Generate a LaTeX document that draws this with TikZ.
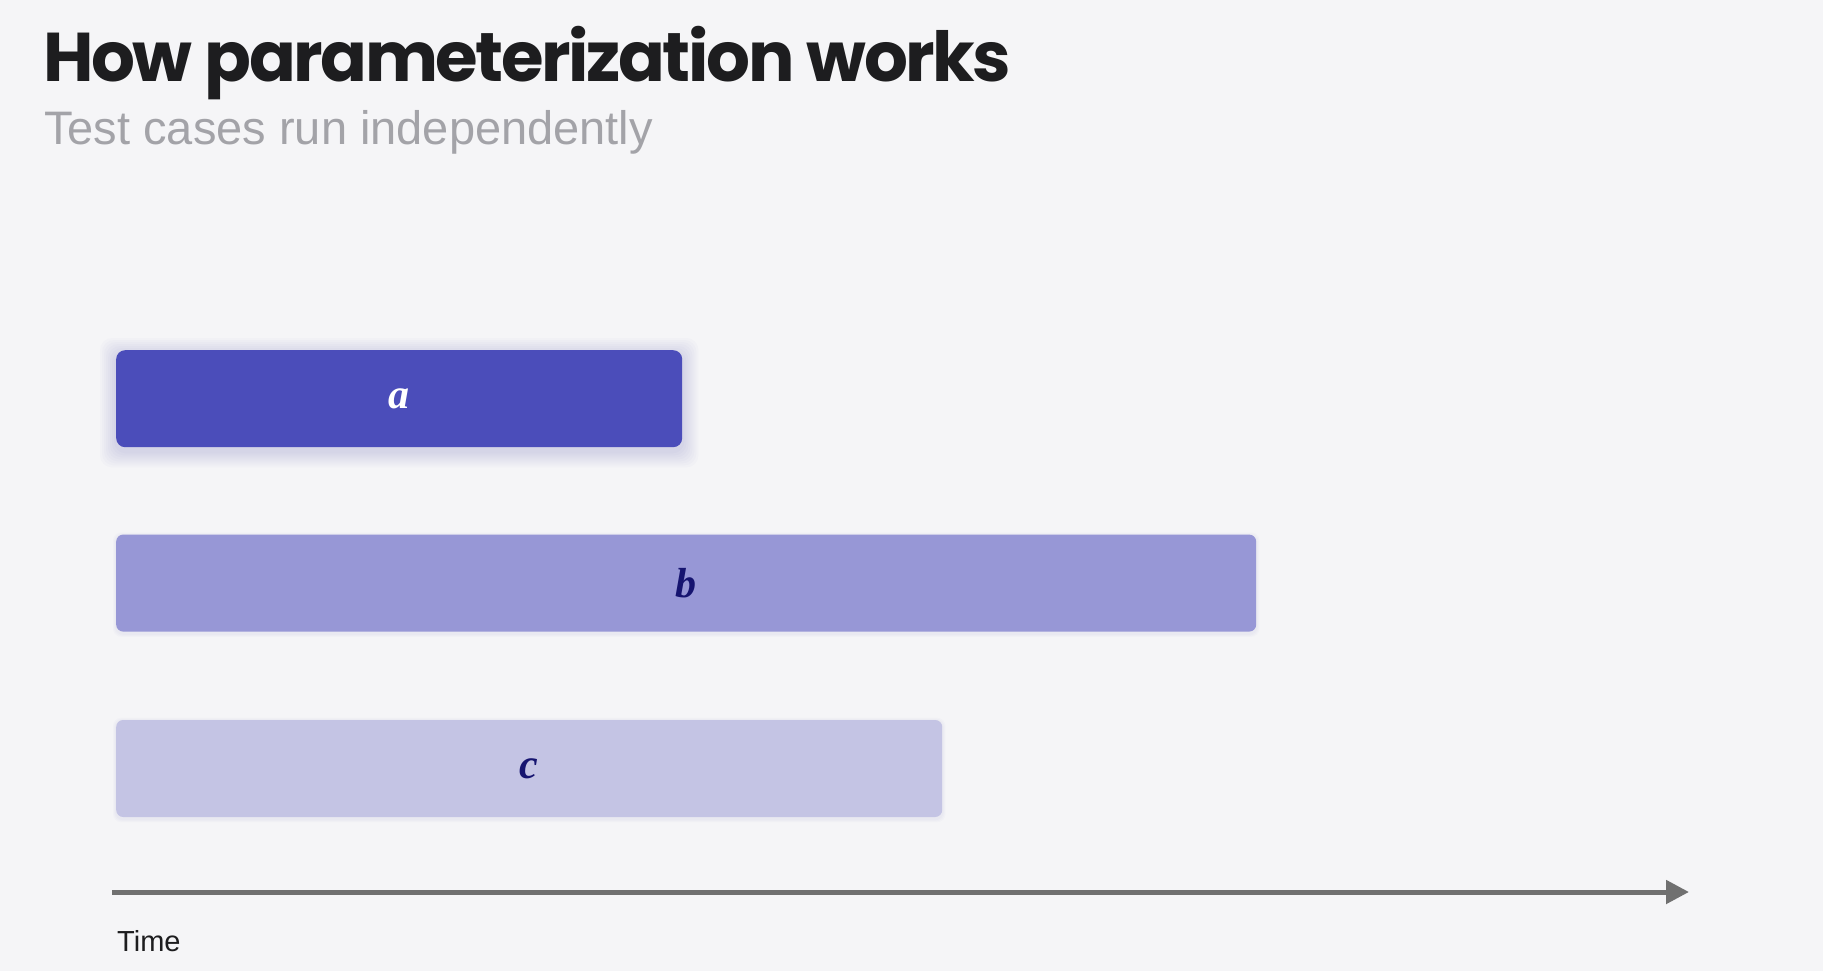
\documentclass[tikz,border=0pt]{standalone}
\usepackage{fontspec}
\setmainfont{Liberation Sans}
\newfontfamily\titlefont[LetterSpace=-3.5]{Poppins}
\newfontfamily\labelfont{Liberation Serif}
\usepackage{tikz}
\usetikzlibrary{positioning,backgrounds,arrows.meta}
\definecolor{pagebg}{RGB}{245,245,247}
\definecolor{ink}{RGB}{29,29,31}
\definecolor{subgray}{RGB}{163,163,168}
\definecolor{j1}{RGB}{75,77,186}
\definecolor{j2}{RGB}{151,151,214}
\definecolor{j3}{RGB}{196,196,228}
\definecolor{navy}{RGB}{22,20,112}
\definecolor{axisgray}{RGB}{112,112,112}

\begin{document}
\begin{tikzpicture}[
  x=1pt, y=-1pt,
  bar/.style={rectangle, rounded corners=7pt, minimum height=97pt, inner sep=0pt,
    anchor=north west, font=\fontsize{42}{42}\selectfont\labelfont\bfseries\itshape},
  bara/.style={bar, fill=j1, text=white, rounded corners=9pt},
  barb/.style={bar, fill=j2, text=navy},
  barc/.style={bar, fill=j3, text=navy},
  axis/.style={axisgray, line width=5pt, -{Triangle[length=23pt, width=23pt]}},
]
\begin{scope}[on background layer]
  \path[use as bounding box, fill=pagebg] (0,0) rectangle (1823,971);
\end{scope}

% --- Heading ---
\node[anchor=base west, inner sep=0pt, text=ink,
  font=\titlefont\bfseries\fontsize{69}{80}\selectfont] (title) at (43,82) {How parameterization works};
\node[anchor=base west, inner sep=0pt, text=subgray,
  font=\fontsize{47}{56}\selectfont] (subtitle) at (44,145) {Test cases run independently};

% --- Test case bars ---
\node[bara, minimum width=566pt] (a) at (116,350) {a};
\node[barb, minimum width=1140pt, below=87pt of a.south west, anchor=north west] (b) {b};
\node[barc, minimum width=826pt, below=88pt of b.south west, anchor=north west] (c) {c};

% soft glow under the bars
\begin{scope}[on background layer]
  \foreach \g in {2,4,...,16}
    \fill[j1, opacity=0.025, rounded corners=12pt]
      ([xshift=-\g pt, yshift=\g pt-4pt]a.north west) rectangle ([xshift=\g pt, yshift=-\g pt-4pt]a.south east);
  \foreach \n in {b,c}
    \foreach \g in {1,2,3}
      \fill[j1, opacity=0.02, rounded corners=8pt]
        ([xshift=-\g pt, yshift=\g pt-1pt]\n.north west) rectangle ([xshift=\g pt, yshift=-\g pt-2pt]\n.south east);
\end{scope}

% --- Time axis ---
\coordinate (t0) at (112,892);
\coordinate (t1) at (1689,892);
\draw[axis] (t0) -- (t1);
\node[anchor=base west, inner sep=0pt, font=\fontsize{29}{34}\selectfont, text=ink] (time) at (117,951) {Time};
\end{tikzpicture}
\end{document}
